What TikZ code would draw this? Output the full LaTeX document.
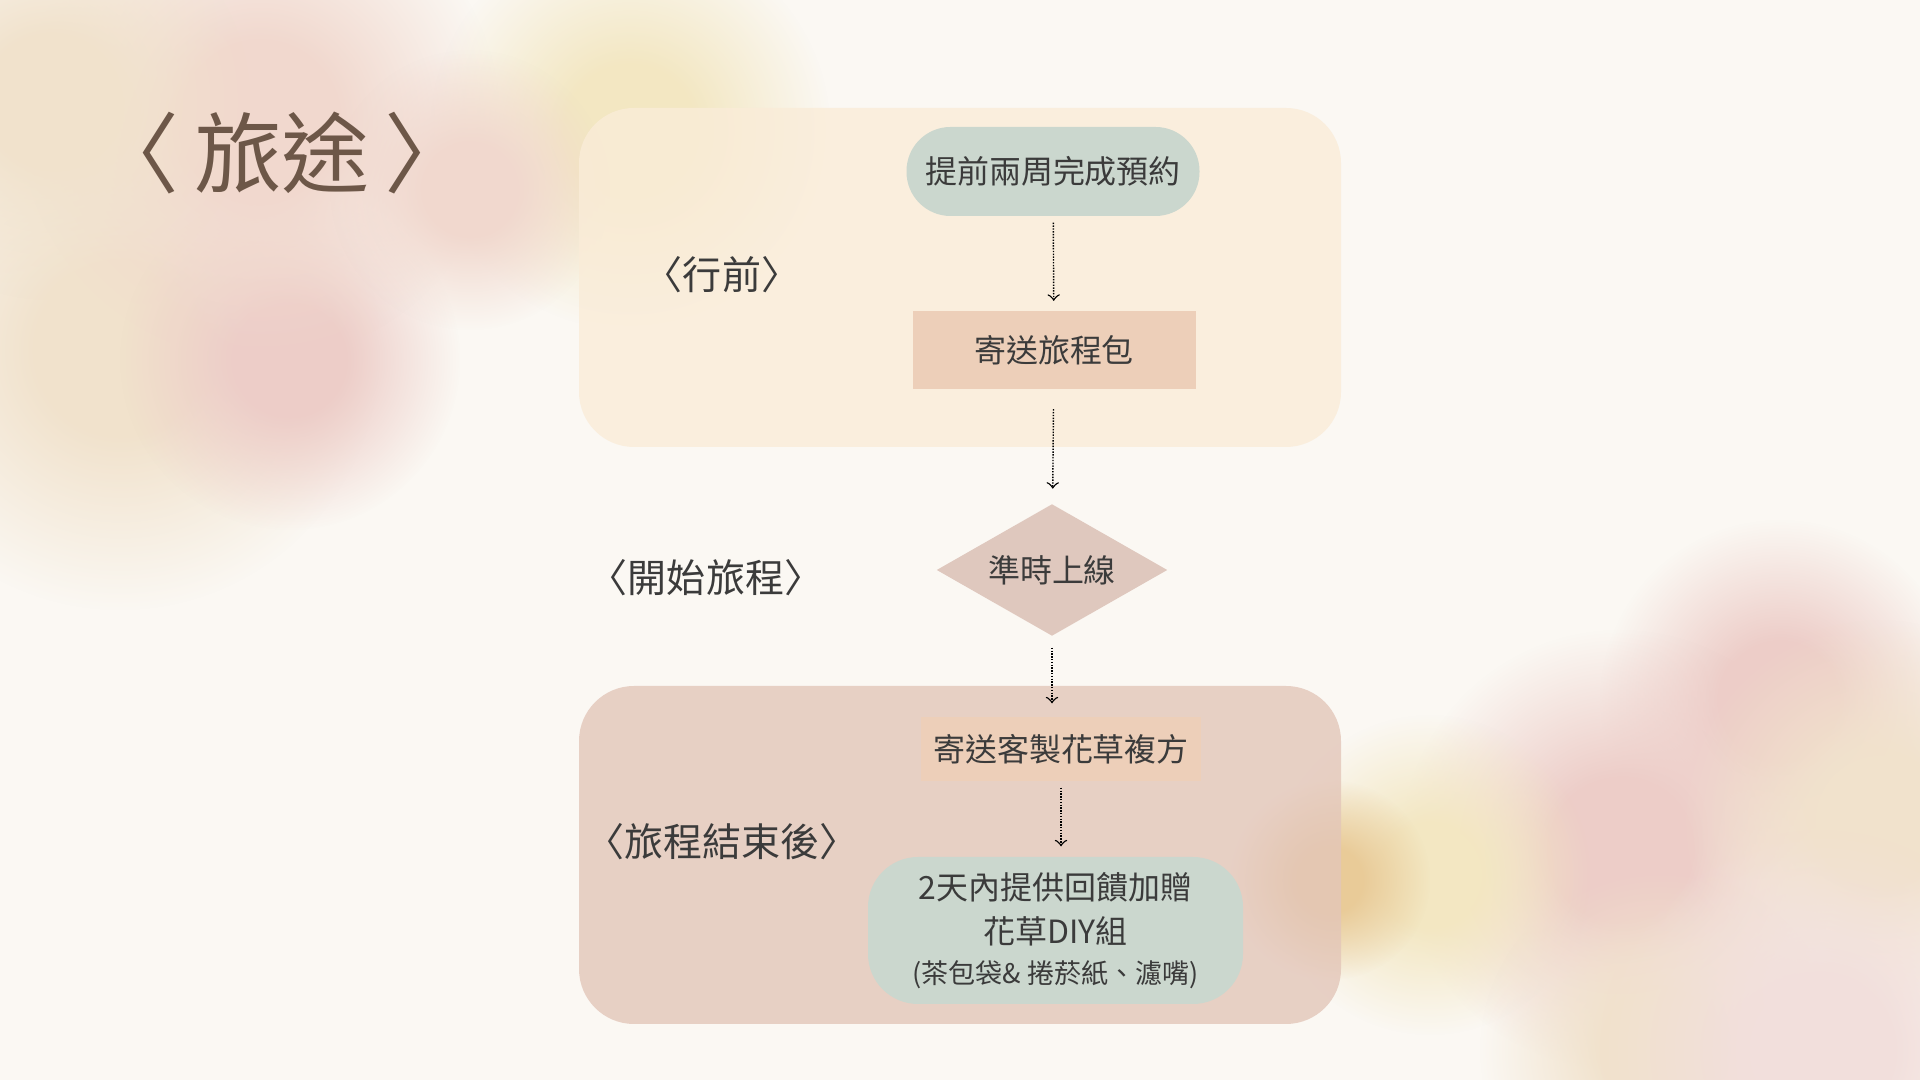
\documentclass[tikz,border=0pt]{standalone}
\usepackage{fontspec}
\setmainfont{Noto Sans CJK TC}
\usetikzlibrary{shapes.geometric,fadings}
\definecolor{paper}{HTML}{FBF8F3}
\definecolor{blobpink}{HTML}{EDCDC8}
\definecolor{blobrose}{HTML}{F1D8CE}
\definecolor{blobyellow}{HTML}{F3E7C2}
\definecolor{blobbeige}{HTML}{F1E2CC}
\definecolor{bloblilac}{HTML}{F2DFDC}
\definecolor{blobgold}{HTML}{E9CB98}
\definecolor{beforebg}{HTML}{FAECD8}
\definecolor{afterbg}{HTML}{E3C6B9}
\definecolor{sage}{HTML}{CBD7CE}
\definecolor{peach}{HTML}{EDCFB9}
\definecolor{dusk}{HTML}{DFC8BE}
\definecolor{ink}{HTML}{3B3B3B}
\definecolor{cocoa}{HTML}{6D5748}
\pgfdeclareradialshading{softblobshade}{\pgfpointorigin}{color(0bp)=(pgftransparent!0); color(8bp)=(pgftransparent!0); color(25bp)=(pgftransparent!100); color(50bp)=(pgftransparent!100)}
\pgfdeclarefading{soft blob}{\pgfuseshading{softblobshade}}

\begin{document}
\begin{tikzpicture}[
    text=ink,
    every node/.style={font=\fontsize{9.1pt}{12.5pt}\selectfont, inner sep=0pt},
    stage/.style={rounded corners=0.55cm, fill opacity=0.8},
    pill/.style={rectangle, fill=sage, rounded corners=0.44cm},
    card/.style={rectangle, fill=peach},
    phase/.style={font=\fontsize{11.1pt}{13pt}\selectfont},
    flow/.style={->, dash pattern=on 0.4pt off 0.4pt, shorten <=0.06cm, shorten >=0.1cm}
  ]
  % background
  \fill[paper] (0,0) rectangle (19.2,10.8);
  \useasboundingbox (0,0) rectangle (19.2,10.8);
  \foreach \x/\y/\r/\c in {1.2/7.3/2.6/blobbeige, 2.9/7.2/1.7/blobpink, 2.6/9.6/2.4/blobrose,
      0.5/9.8/2.0/blobbeige, 6.3/9.5/2.0/blobyellow, 4.7/8.9/1.4/blobrose,
      17.8/3.8/1.8/blobpink, 16.2/2.3/2.2/blobpink, 14.3/2.05/1.6/blobyellow, 18.8/2.6/2.0/blobbeige,
      16.6/0.3/1.8/blobbeige, 18.2/0.3/2.2/bloblilac, 13.3/2.0/1.0/blobgold}
    \fill[\c, path fading=soft blob] (\x,\y) circle (\r);

  \node (T) [text=cocoa, font=\fontsize{25pt}{30pt}\selectfont] at (2.82, 9.27) {〈\,旅途\,〉};

  % the two stages
  \fill[beforebg, stage] (5.79, 6.33) rectangle (13.41, 9.72);
  \fill[afterbg, stage] (5.79, 0.56) rectangle (13.41, 3.94);

  \node (L1) [phase] at (7.22, 8.05) {〈行前〉};
  \node (L2) [phase] at (7.06, 5.02) {〈開始旅程〉};
  \node (L3) [phase] at (7.22, 2.38) {〈旅程結束後〉};

  \node (A) [pill, minimum width=2.93cm, minimum height=0.89cm] at (10.53, 9.085) {提前兩周完成預約};
  \node (B) [card, minimum width=2.83cm, minimum height=0.78cm] at (10.54, 7.295) {寄送旅程包};
  \node (C) [diamond, fill=dusk, aspect=1.75, minimum width=2.31cm, minimum height=1.32cm] at (10.52, 5.10) {準時上線};
  \node (D) [card, minimum width=2.80cm, minimum height=0.64cm] at (10.61, 3.31) {寄送客製花草複方};
  \node (E) [pill, rounded corners=0.5cm, minimum width=3.75cm, minimum height=1.47cm, align=center] at (10.555, 1.495) {
    2天內提供回饋加贈\\
    花草DIY組\\[-1pt]
    {\fontsize{7.7pt}{10pt}\selectfont (茶包袋\& 捲菸紙、濾嘴)}
  };

  \draw[flow] (A) -- (B);
  \draw[flow, shorten <=0.19cm, shorten >=0.15cm] (B) -- (C);
  \draw[flow, shorten <=0.11cm, shorten >=0.13cm] (C) -- (C |- D.north);
  \draw[flow] (D) -- (D |- E.north);
\end{tikzpicture}
\end{document}
